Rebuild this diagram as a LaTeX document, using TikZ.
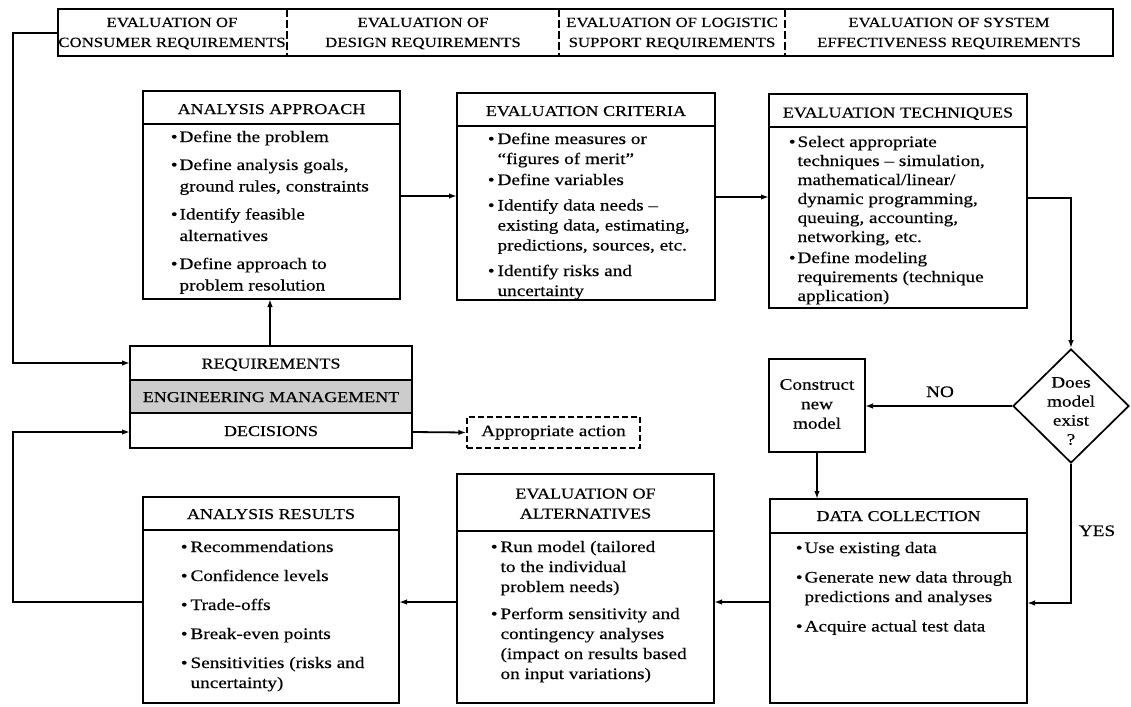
\documentclass[tikz,border=0pt]{standalone}
\usepackage{fontspec}
\setmainfont[FakeStretch=1.2,FakeBold=0.4]{Liberation Serif}
\usetikzlibrary{arrows.meta,shapes.geometric}
\begin{document}
\begin{tikzpicture}[x=1pt,y=-1pt,
  line width=1.7pt,
  box/.style={draw,line width=1.7pt,anchor=north west,inner sep=0,outer sep=0},
  arr/.style={-{Latex[length=8pt,width=5.5pt]},line width=1.8pt},
  hdr/.style={inner sep=0,anchor=base,font=\fontsize{15}{20}\selectfont},
  top/.style={inner sep=0,anchor=base,font=\fontsize{14}{20}\selectfont},
  body/.style={inner sep=0,anchor=base west},
  lbl/.style={inner sep=0,anchor=base,font=\fontsize{16}{19}\selectfont}
]
\useasboundingbox (0,0) rectangle (1131,706);

% ---------- top bar ----------
\node[box,minimum width=1055pt,minimum height=47pt] (bar) at (58,9) {};
\draw[dash pattern=on 8pt off 3pt,line width=1.4pt] (287,9) -- (287,56);
\draw[dash pattern=on 8pt off 3pt,line width=1.4pt] (559,9) -- (559,56);
\draw[dash pattern=on 8pt off 3pt,line width=1.4pt] (785,9) -- (785,56);
\node[top] (t1a) at (172,27) {EVALUATION OF};
\node[top] (t1b) at (172,47) {CONSUMER REQUIREMENTS};
\node[top] (t2a) at (423,27) {EVALUATION OF};
\node[top] (t2b) at (423,47) {DESIGN REQUIREMENTS};
\node[top] (t3a) at (672,27) {EVALUATION OF LOGISTIC};
\node[top] (t3b) at (672,47) {SUPPORT REQUIREMENTS};
\node[top] (t4a) at (949,27) {EVALUATION OF SYSTEM};
\node[top] (t4b) at (949,47) {EFFECTIVENESS REQUIREMENTS};

% ---------- analysis approach ----------
\node[box,minimum width=257pt,minimum height=208pt] (aa) at (143,91) {};
\draw (143,124) -- (400,124);
\node[hdr] (aah) at (271.5,114) {ANALYSIS APPROACH};
\node[body,font=\fontsize{16}{21.5}\selectfont] (aab) at (170,142) {%
\begin{tabular}[t]{@{}l@{\hspace{2pt}}l@{}}
\textbullet & Define the problem\\[6.5pt]
\textbullet & Define analysis goals,\\
 & ground rules, constraints\\[6.5pt]
\textbullet & Identify feasible\\
 & alternatives\\[6.5pt]
\textbullet & Define approach to\\
 & problem resolution
\end{tabular}};

% ---------- evaluation criteria ----------
\node[box,minimum width=258pt,minimum height=207pt] (ec) at (457,93) {};
\draw (457,126) -- (715,126);
\node[hdr] (ech) at (586,116) {EVALUATION CRITERIA};
\node[body,font=\fontsize{16}{20}\selectfont] (ecb) at (487,144) {%
\begin{tabular}[t]{@{}l@{\hspace{3pt}}l@{}}
\textbullet & Define measures or\\
 & “figures of merit”\\[1pt]
\textbullet & Define variables\\[5.5pt]
\textbullet & Identify data needs --\\
 & existing data, estimating,\\
 & predictions, sources, etc.\\[5.5pt]
\textbullet & Identify risks and\\
 & uncertainty
\end{tabular}};

% ---------- evaluation techniques ----------
\node[box,minimum width=258pt,minimum height=214pt] (et) at (769,94) {};
\draw (769,127) -- (1027,127);
\node[hdr] (eth) at (898,117.5) {EVALUATION TECHNIQUES};
\node[body,font=\fontsize{16}{19}\selectfont] (etb) at (788,147) {%
\begin{tabular}[t]{@{}l@{\hspace{2pt}}l@{}}
\textbullet & Select appropriate\\
 & techniques -- simulation,\\
 & mathematical/linear/\\
 & dynamic programming,\\
 & queuing, accounting,\\
 & networking, etc.\\[2pt]
\textbullet & Define modeling\\
 & requirements (technique\\
 & application)
\end{tabular}};

% ---------- engineering management block ----------
\node[box,minimum width=282pt,minimum height=102pt] (em) at (130,346) {};
\fill[gray!40] (130,380) rectangle (412,413);
\draw (130,380) -- (412,380);
\draw (130,413) -- (412,413);
\draw (em.north west) rectangle (em.south east);
\node[hdr] (req) at (271,368.5) {REQUIREMENTS};
\node[hdr] (engm) at (271,402) {ENGINEERING MANAGEMENT};
\node[hdr] (dec) at (271,436) {DECISIONS};

\node[draw,dash pattern=on 6pt off 3pt,line width=1.4pt,minimum width=173pt,minimum height=31pt,inner sep=0,
  font=\fontsize{16}{19}\selectfont] (act) at (553.5,432.5) {Appropriate action};

% ---------- diamond & construct ----------
\node[diamond,draw,line width=1.7pt,minimum width=116pt,minimum height=114pt,inner sep=0] (dm) at (1071,406) {};
\node[align=center,inner sep=0,font=\fontsize{16}{19}\selectfont] (dmt) at (1071,411) {Does\\model\\exist\\?};

\node[box,minimum width=96pt,minimum height=93pt] (cn) at (769,359) {};
\node[align=center,inner sep=0,font=\fontsize{16}{19.5}\selectfont] (cnt) at (817,404) {Construct\\new\\model};

\node[lbl] (no) at (940,397) {NO};
\node[lbl] (yes) at (1097,536) {YES};

% ---------- data collection ----------
\node[box,minimum width=257pt,minimum height=204pt] (dc) at (770,499) {};
\draw (770,533) -- (1027,533);
\node[hdr] (dch) at (898.5,521) {DATA COLLECTION};
\node[body,font=\fontsize{16}{19.5}\selectfont] (dcb) at (795,553) {%
\begin{tabular}[t]{@{}l@{\hspace{2pt}}l@{}}
\textbullet & Use existing data\\[10pt]
\textbullet & Generate new data through\\
 & predictions and analyses\\[10pt]
\textbullet & Acquire actual test data
\end{tabular}};

% ---------- evaluation of alternatives ----------
\node[box,minimum width=257pt,minimum height=229pt] (ea) at (457,474) {};
\draw (457,531) -- (714,531);
\node[hdr] (eah1) at (585.5,498.5) {EVALUATION OF};
\node[hdr] (eah2) at (585.5,518.5) {ALTERNATIVES};
\node[body,font=\fontsize{16}{20}\selectfont] (eab) at (490,552) {%
\begin{tabular}[t]{@{}l@{\hspace{3pt}}l@{}}
\textbullet & Run model (tailored\\
 & to the individual\\
 & problem needs)\\[7pt]
\textbullet & Perform sensitivity and\\
 & contingency analyses\\
 & (impact on results based\\
 & on input variations)
\end{tabular}};

% ---------- analysis results ----------
\node[box,minimum width=256pt,minimum height=206pt] (ar) at (143,497) {};
\draw (143,530) -- (399,530);
\node[hdr] (arh) at (271,519) {ANALYSIS RESULTS};
\node[body,font=\fontsize{16}{20}\selectfont] (arb) at (180,552) {%
\begin{tabular}[t]{@{}l@{\hspace{3pt}}l@{}}
\textbullet & Recommendations\\[9pt]
\textbullet & Confidence levels\\[9pt]
\textbullet & Trade-offs\\[9pt]
\textbullet & Break-even points\\[9pt]
\textbullet & Sensitivities (risks and\\
 & uncertainty)
\end{tabular}};

% ---------- connectors ----------
\coordinate (lt) at (13,33);
\coordinate (lb) at (13,602);
\draw[arr] (bar.west |- 0,33) -- (lt) -- (lt |- 0,363) -- (em.west |- 0,363);
\draw[arr] (ar.west |- 0,602) -- (lb) -- (lb |- 0,432) -- (em.west |- 0,432);
\draw[arr] (em.north -| 270,0) -- (aa.south -| 270,0);
\draw[arr] (aa.east |- 0,196) -- (ec.west |- 0,196);
\draw[arr] (ec.east |- 0,197) -- (et.west |- 0,197);
\coordinate (rt) at (1071,198);
\draw[arr] (et.east |- rt) -- (rt) -- (dm.north);
\draw[arr] (dm.west) -- (cn.east |- dm.west);
\draw[arr] (cn.south) -- (cn.south |- dc.north);
\coordinate (rb) at (1071,603);
\draw[arr] (dm.south) -- (rb) -- (dc.east |- rb);
\draw[arr] (dc.west |- 0,602) -- (ea.east |- 0,602);
\draw[arr] (ea.west |- 0,602) -- (ar.east |- 0,602);
\draw[arr] (em.east |- 0,432) -- (act.west);
\end{tikzpicture}
\end{document}
